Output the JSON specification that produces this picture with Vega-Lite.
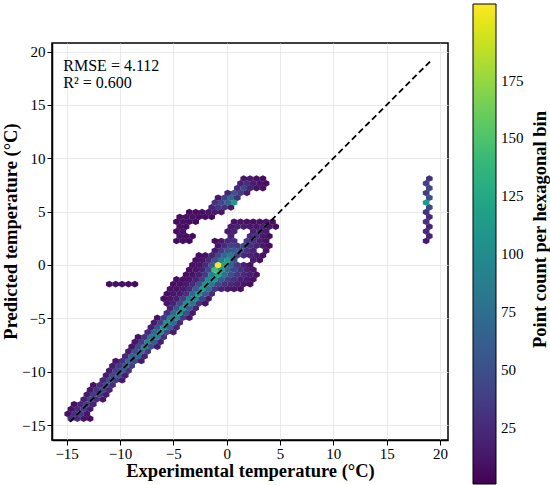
{
  "$schema": "https://vega.github.io/schema/vega-lite/v6.json",
  "width": 396,
  "height": 397,
  "autosize": {"type": "none"},
  "padding": {"left": 52, "top": 43, "right": 102, "bottom": 45},
  "background": "white",
  "config": {
    "view": {"stroke": "black", "strokeWidth": 1.5},
    "font": "Liberation Serif",
    "axis": {
      "labelFont": "Liberation Serif", "labelFontSize": 15, "labelColor": "black",
      "titleFont": "Liberation Serif", "titleFontSize": 18.5, "titleFontWeight": "bold", "titleColor": "black",
      "domainColor": "black", "domainWidth": 1.5, "tickColor": "black", "tickSize": 5, "tickWidth": 1,
      "gridColor": "#e4e4e4", "gridWidth": 0.8
    },
    "legend": {
      "labelFont": "Liberation Serif", "labelFontSize": 15, "labelColor": "black"
    }
  },
  "datasets": {
    "hex": [
      {"x":-14.6,"y":-14.4,"c":30},{"x":-14.0,"y":-14.4,"c":25},{"x":-13.4,"y":-14.4,"c":12},{"x":-12.8,"y":-14.4,"c":8},
      {"x":-14.9,"y":-13.95,"c":10},{"x":-14.3,"y":-13.95,"c":30},{"x":-13.7,"y":-13.95,"c":35},{"x":-13.1,"y":-13.95,"c":12},
      {"x":-14.6,"y":-13.5,"c":10},{"x":-14.0,"y":-13.5,"c":25},{"x":-13.4,"y":-13.5,"c":38},{"x":-12.8,"y":-13.5,"c":15},
      {"x":-14.3,"y":-13.05,"c":10},{"x":-13.7,"y":-13.05,"c":22},{"x":-13.1,"y":-13.05,"c":40},{"x":-12.5,"y":-13.05,"c":20},
      {"x":-13.4,"y":-12.6,"c":18},{"x":-12.8,"y":-12.6,"c":42},{"x":-12.2,"y":-12.6,"c":28},{"x":-11.6,"y":-12.6,"c":12},
      {"x":-13.1,"y":-12.15,"c":15},{"x":-12.5,"y":-12.15,"c":38},{"x":-11.9,"y":-12.15,"c":40},{"x":-11.3,"y":-12.15,"c":15},
      {"x":-12.8,"y":-11.7,"c":12},{"x":-12.2,"y":-11.7,"c":30},{"x":-11.6,"y":-11.7,"c":45},{"x":-11.0,"y":-11.7,"c":22},
      {"x":-12.5,"y":-11.25,"c":10},{"x":-11.9,"y":-11.25,"c":28},{"x":-11.3,"y":-11.25,"c":48},{"x":-10.7,"y":-11.25,"c":25},
      {"x":-11.6,"y":-10.8,"c":22},{"x":-11.0,"y":-10.8,"c":50},{"x":-10.4,"y":-10.8,"c":35},{"x":-9.8,"y":-10.8,"c":15},
      {"x":-11.3,"y":-10.35,"c":18},{"x":-10.7,"y":-10.35,"c":45},{"x":-10.1,"y":-10.35,"c":50},{"x":-9.5,"y":-10.35,"c":18},
      {"x":-11.0,"y":-9.9,"c":15},{"x":-10.4,"y":-9.9,"c":40},{"x":-9.8,"y":-9.9,"c":60},{"x":-9.2,"y":-9.9,"c":30},
      {"x":-10.7,"y":-9.45,"c":15},{"x":-10.1,"y":-9.45,"c":35},{"x":-9.5,"y":-9.45,"c":65},{"x":-8.9,"y":-9.45,"c":38},
      {"x":-10.4,"y":-9.0,"c":12},{"x":-9.8,"y":-9.0,"c":30},{"x":-9.2,"y":-9.0,"c":70},{"x":-8.6,"y":-9.0,"c":45},{"x":-8.0,"y":-9.0,"c":15},
      {"x":-9.5,"y":-8.55,"c":25},{"x":-8.9,"y":-8.55,"c":65},{"x":-8.3,"y":-8.55,"c":70},{"x":-7.7,"y":-8.55,"c":20},
      {"x":-9.2,"y":-8.1,"c":15},{"x":-8.6,"y":-8.1,"c":50},{"x":-8.0,"y":-8.1,"c":80},{"x":-7.4,"y":-8.1,"c":35},
      {"x":-8.9,"y":-7.65,"c":12},{"x":-8.3,"y":-7.65,"c":45},{"x":-7.7,"y":-7.65,"c":90},{"x":-7.1,"y":-7.65,"c":50},{"x":-6.5,"y":-7.65,"c":15},
      {"x":-8.6,"y":-7.2,"c":12},{"x":-8.0,"y":-7.2,"c":35},{"x":-7.4,"y":-7.2,"c":95},{"x":-6.8,"y":-7.2,"c":60},{"x":-6.2,"y":-7.2,"c":18},
      {"x":-8.3,"y":-6.75,"c":10},{"x":-7.7,"y":-6.75,"c":30},{"x":-7.1,"y":-6.75,"c":85},{"x":-6.5,"y":-6.75,"c":90},{"x":-5.9,"y":-6.75,"c":30},
      {"x":-7.4,"y":-6.3,"c":25},{"x":-6.8,"y":-6.3,"c":70},{"x":-6.2,"y":-6.3,"c":100},{"x":-5.6,"y":-6.3,"c":45},{"x":-5.0,"y":-6.3,"c":15},
      {"x":-7.1,"y":-5.85,"c":18},{"x":-6.5,"y":-5.85,"c":55},{"x":-5.9,"y":-5.85,"c":105},{"x":-5.3,"y":-5.85,"c":60},{"x":-4.7,"y":-5.85,"c":20},
      {"x":-6.8,"y":-5.4,"c":15},{"x":-6.2,"y":-5.4,"c":40},{"x":-5.6,"y":-5.4,"c":105},{"x":-5.0,"y":-5.4,"c":75},{"x":-4.4,"y":-5.4,"c":25},
      {"x":-6.5,"y":-4.95,"c":10},{"x":-5.9,"y":-4.95,"c":35},{"x":-5.3,"y":-4.95,"c":95},{"x":-4.7,"y":-4.95,"c":100},{"x":-4.1,"y":-4.95,"c":35},{"x":-3.5,"y":-4.95,"c":12},
      {"x":-5.6,"y":-4.5,"c":30},{"x":-5.0,"y":-4.5,"c":70},{"x":-4.4,"y":-4.5,"c":110},{"x":-3.8,"y":-4.5,"c":50},{"x":-3.2,"y":-4.5,"c":15},
      {"x":-5.3,"y":-4.05,"c":20},{"x":-4.7,"y":-4.05,"c":55},{"x":-4.1,"y":-4.05,"c":110},{"x":-3.5,"y":-4.05,"c":60},{"x":-2.9,"y":-4.05,"c":20},
      {"x":-5.6,"y":-3.6,"c":12},{"x":-5.0,"y":-3.6,"c":20},{"x":-4.4,"y":-3.6,"c":45},{"x":-3.8,"y":-3.6,"c":105},{"x":-3.2,"y":-3.6,"c":80},{"x":-2.6,"y":-3.6,"c":30},{"x":-2.0,"y":-3.6,"c":10},
      {"x":-5.9,"y":-3.15,"c":8},{"x":-5.3,"y":-3.15,"c":12},{"x":-4.7,"y":-3.15,"c":18},{"x":-4.1,"y":-3.15,"c":40},{"x":-3.5,"y":-3.15,"c":95},{"x":-2.9,"y":-3.15,"c":100},{"x":-2.3,"y":-3.15,"c":40},{"x":-1.7,"y":-3.15,"c":15},
      {"x":-5.6,"y":-2.7,"c":8},{"x":-5.0,"y":-2.7,"c":12},{"x":-4.4,"y":-2.7,"c":15},{"x":-3.8,"y":-2.7,"c":30},{"x":-3.2,"y":-2.7,"c":70},{"x":-2.6,"y":-2.7,"c":110},{"x":-2.0,"y":-2.7,"c":60},{"x":-1.4,"y":-2.7,"c":25},
      {"x":-5.3,"y":-2.25,"c":10},{"x":-4.7,"y":-2.25,"c":10},{"x":-4.1,"y":-2.25,"c":15},{"x":-3.5,"y":-2.25,"c":25},{"x":-2.9,"y":-2.25,"c":60},{"x":-2.3,"y":-2.25,"c":115},{"x":-1.7,"y":-2.25,"c":75},{"x":-1.1,"y":-2.25,"c":35},{"x":-0.5,"y":-2.25,"c":20},{"x":0.1,"y":-2.25,"c":15},{"x":0.7,"y":-2.25,"c":12},{"x":1.3,"y":-2.25,"c":8},
      {"x":-11.0,"y":-1.8,"c":8},{"x":-10.4,"y":-1.8,"c":10},{"x":-9.8,"y":-1.8,"c":9},{"x":-9.2,"y":-1.8,"c":8},{"x":-8.6,"y":-1.8,"c":6},
      {"x":-5.0,"y":-1.8,"c":8},{"x":-4.4,"y":-1.8,"c":10},{"x":-3.8,"y":-1.8,"c":15},{"x":-3.2,"y":-1.8,"c":25},{"x":-2.6,"y":-1.8,"c":50},{"x":-2.0,"y":-1.8,"c":110},{"x":-1.4,"y":-1.8,"c":85},{"x":-0.8,"y":-1.8,"c":45},{"x":-0.2,"y":-1.8,"c":30},{"x":0.4,"y":-1.8,"c":25},{"x":1.0,"y":-1.8,"c":18},{"x":1.6,"y":-1.8,"c":12},{"x":2.2,"y":-1.8,"c":8},
      {"x":-4.7,"y":-1.35,"c":8},{"x":-4.1,"y":-1.35,"c":10},{"x":-3.5,"y":-1.35,"c":12},{"x":-2.9,"y":-1.35,"c":20},{"x":-2.3,"y":-1.35,"c":40},{"x":-1.7,"y":-1.35,"c":100},{"x":-1.1,"y":-1.35,"c":110},{"x":-0.5,"y":-1.35,"c":60},{"x":0.1,"y":-1.35,"c":40},{"x":0.7,"y":-1.35,"c":30},{"x":1.3,"y":-1.35,"c":20},{"x":1.9,"y":-1.35,"c":15},{"x":2.5,"y":-1.35,"c":10},
      {"x":-3.8,"y":-0.9,"c":8},{"x":-3.2,"y":-0.9,"c":10},{"x":-2.6,"y":-0.9,"c":18},{"x":-2.0,"y":-0.9,"c":35},{"x":-1.4,"y":-0.9,"c":90},{"x":-0.8,"y":-0.9,"c":125},{"x":-0.2,"y":-0.9,"c":80},{"x":0.4,"y":-0.9,"c":50},{"x":1.0,"y":-0.9,"c":35},{"x":1.6,"y":-0.9,"c":25},{"x":2.2,"y":-0.9,"c":18},{"x":2.8,"y":-0.9,"c":10},
      {"x":-3.5,"y":-0.45,"c":8},{"x":-2.9,"y":-0.45,"c":12},{"x":-2.3,"y":-0.45,"c":20},{"x":-1.7,"y":-0.45,"c":45},{"x":-1.1,"y":-0.45,"c":145},{"x":-0.5,"y":-0.45,"c":110},{"x":0.1,"y":-0.45,"c":70},{"x":0.7,"y":-0.45,"c":45},{"x":1.3,"y":-0.45,"c":30},{"x":1.9,"y":-0.45,"c":20},{"x":2.5,"y":-0.45,"c":12},
      {"x":-3.2,"y":0,"c":8},{"x":-2.6,"y":0,"c":12},{"x":-2.0,"y":0,"c":25},{"x":-1.4,"y":0,"c":60},{"x":-0.8,"y":0,"c":208},{"x":-0.2,"y":0,"c":120},{"x":0.4,"y":0,"c":65},{"x":1.0,"y":0,"c":35},{"x":1.6,"y":0,"c":20},{"x":2.2,"y":0,"c":10},
      {"x":-2.9,"y":0.45,"c":8},{"x":-2.3,"y":0.45,"c":12},{"x":-1.7,"y":0.45,"c":25},{"x":-1.1,"y":0.45,"c":55},{"x":-0.5,"y":0.45,"c":90},{"x":0.1,"y":0.45,"c":115},{"x":0.7,"y":0.45,"c":50},{"x":2.5,"y":0.45,"c":15},{"x":3.1,"y":0.45,"c":10},
      {"x":-2.6,"y":0.9,"c":8},{"x":-2.0,"y":0.9,"c":10},{"x":-1.4,"y":0.9,"c":20},{"x":-0.8,"y":0.9,"c":45},{"x":-0.2,"y":0.9,"c":70},{"x":0.4,"y":0.9,"c":85},{"x":1.0,"y":0.9,"c":40},{"x":1.6,"y":0.9,"c":25},{"x":2.2,"y":0.9,"c":20},{"x":2.8,"y":0.9,"c":15},{"x":3.4,"y":0.9,"c":10},
      {"x":-1.1,"y":1.35,"c":15},{"x":-0.5,"y":1.35,"c":35},{"x":0.1,"y":1.35,"c":55},{"x":0.7,"y":1.35,"c":60},{"x":1.3,"y":1.35,"c":50},{"x":1.9,"y":1.35,"c":30},{"x":2.5,"y":1.35,"c":20},{"x":3.7,"y":1.35,"c":10},
      {"x":-0.8,"y":1.8,"c":12},{"x":-0.2,"y":1.8,"c":25},{"x":0.4,"y":1.8,"c":40},{"x":1.0,"y":1.8,"c":35},{"x":1.6,"y":1.8,"c":45},{"x":2.2,"y":1.8,"c":30},{"x":2.8,"y":1.8,"c":20},{"x":3.4,"y":1.8,"c":15},{"x":4.0,"y":1.8,"c":8},
      {"x":-4.7,"y":2.25,"c":5},{"x":-4.1,"y":2.25,"c":8},{"x":-3.5,"y":2.25,"c":5},{"x":-1.1,"y":2.25,"c":8},{"x":-0.5,"y":2.25,"c":15},{"x":0.1,"y":2.25,"c":25},{"x":0.7,"y":2.25,"c":30},{"x":1.9,"y":2.25,"c":35},{"x":2.5,"y":2.25,"c":30},{"x":3.1,"y":2.25,"c":18},{"x":3.7,"y":2.25,"c":10},{"x":18.7,"y":2.25,"c":15},
      {"x":-4.4,"y":2.7,"c":10},{"x":-3.8,"y":2.7,"c":8},{"x":-3.2,"y":2.7,"c":5},{"x":0.4,"y":2.7,"c":20},{"x":2.2,"y":2.7,"c":25},{"x":2.8,"y":2.7,"c":30},{"x":3.4,"y":2.7,"c":15},{"x":4.0,"y":2.7,"c":8},{"x":19.0,"y":2.7,"c":20},
      {"x":-4.7,"y":3.15,"c":8},{"x":-4.1,"y":3.15,"c":10},{"x":0.1,"y":3.15,"c":15},{"x":0.7,"y":3.15,"c":20},{"x":2.5,"y":3.15,"c":20},{"x":3.1,"y":3.15,"c":25},{"x":3.7,"y":3.15,"c":15},{"x":18.7,"y":3.15,"c":25},
      {"x":-4.4,"y":3.6,"c":10},{"x":-3.8,"y":3.6,"c":8},{"x":0.4,"y":3.6,"c":15},{"x":1.0,"y":3.6,"c":20},{"x":1.6,"y":3.6,"c":18},{"x":2.2,"y":3.6,"c":15},{"x":2.8,"y":3.6,"c":12},{"x":3.4,"y":3.6,"c":20},{"x":4.0,"y":3.6,"c":12},{"x":4.6,"y":3.6,"c":8},{"x":19.0,"y":3.6,"c":20},
      {"x":-4.7,"y":4.05,"c":6},{"x":-4.1,"y":4.05,"c":10},{"x":-3.5,"y":4.05,"c":8},{"x":-2.9,"y":4.05,"c":6},{"x":0.7,"y":4.05,"c":10},{"x":1.3,"y":4.05,"c":12},{"x":1.9,"y":4.05,"c":10},{"x":2.5,"y":4.05,"c":8},{"x":3.1,"y":4.05,"c":10},{"x":3.7,"y":4.05,"c":12},{"x":4.3,"y":4.05,"c":8},{"x":18.7,"y":4.05,"c":30},
      {"x":-4.4,"y":4.5,"c":8},{"x":-3.8,"y":4.5,"c":10},{"x":-3.2,"y":4.5,"c":10},{"x":-2.6,"y":4.5,"c":8},{"x":-2.0,"y":4.5,"c":8},{"x":-1.4,"y":4.5,"c":6},{"x":19.0,"y":4.5,"c":25},
      {"x":-3.5,"y":4.95,"c":6},{"x":-2.9,"y":4.95,"c":8},{"x":-2.3,"y":4.95,"c":10},{"x":-1.7,"y":4.95,"c":12},{"x":-1.1,"y":4.95,"c":15},{"x":-0.5,"y":4.95,"c":12},{"x":18.7,"y":4.95,"c":30},
      {"x":-1.4,"y":5.4,"c":20},{"x":-0.8,"y":5.4,"c":35},{"x":-0.2,"y":5.4,"c":30},{"x":0.4,"y":5.4,"c":15},{"x":19.0,"y":5.4,"c":45},
      {"x":-1.1,"y":5.85,"c":30},{"x":-0.5,"y":5.85,"c":45},{"x":0.1,"y":5.85,"c":65},{"x":0.7,"y":5.85,"c":115},{"x":18.7,"y":5.85,"c":115},
      {"x":-0.8,"y":6.3,"c":15},{"x":-0.2,"y":6.3,"c":40},{"x":0.4,"y":6.3,"c":70},{"x":1.0,"y":6.3,"c":30},{"x":19.0,"y":6.3,"c":50},
      {"x":0.1,"y":6.75,"c":20},{"x":0.7,"y":6.75,"c":55},{"x":1.3,"y":6.75,"c":35},{"x":1.9,"y":6.75,"c":15},{"x":18.7,"y":6.75,"c":35},
      {"x":1.0,"y":7.2,"c":25},{"x":1.6,"y":7.2,"c":45},{"x":2.2,"y":7.2,"c":20},{"x":2.8,"y":7.2,"c":10},{"x":3.4,"y":7.2,"c":10},{"x":19.0,"y":7.2,"c":45},
      {"x":1.3,"y":7.65,"c":20},{"x":1.9,"y":7.65,"c":30},{"x":2.5,"y":7.65,"c":18},{"x":3.1,"y":7.65,"c":12},{"x":3.7,"y":7.65,"c":8},{"x":18.7,"y":7.65,"c":40},
      {"x":1.6,"y":8.1,"c":12},{"x":2.2,"y":8.1,"c":15},{"x":2.8,"y":8.1,"c":10},{"x":3.4,"y":8.1,"c":8},{"x":19.0,"y":8.1,"c":30}
    ]
  },
  "layer": [
    {
      "layer": [
        {
          "data": {"name": "hex"},
          "mark": {"type": "point", "shape": "M0,-1L1,-0.5L1,0.5L0,1L-1,0.5L-1,-0.5Z", "size": 44, "filled": true, "opacity": 1, "strokeWidth": 0},
          "encoding": {
            "x": {
              "field": "x", "type": "quantitative",
              "scale": {"domain": [-16.37, 20.75], "nice": false, "zero": false},
              "axis": {"title": "Experimental temperature (°C)", "values": [-15, -10, -5, 0, 5, 10, 15, 20], "labelFont": "Liberation Serif", "labelPadding": 1, "titleX": 198, "titleY": 36, "titleBaseline": "alphabetic"}
            },
            "y": {
              "field": "y", "type": "quantitative",
              "scale": {"domain": [-16.4, 20.8], "nice": false, "zero": false},
              "axis": {"title": "Predicted temperature (°C)", "values": [-15, -10, -5, 0, 5, 10, 15, 20], "labelFont": "Liberation Serif", "labelPadding": 2, "titleX": -36, "titleY": 188, "titleBaseline": "alphabetic"}
            },
            "color": {
              "field": "c", "type": "quantitative",
              "scale": {"scheme": "viridis", "domain": [1, 208]},
              "legend": {
                "type": "gradient", "title": null, "orient": "none", "legendX": 421, "legendY": -39,
                "direction": "vertical", "gradientLength": 480, "gradientThickness": 23,
                "values": [25, 50, 75, 100, 125, 150, 175], "labelOverlap": false, "labelOffset": 5,
                "gradientStrokeColor": "black", "gradientStrokeWidth": 1
              }
            }
          }
        },
        {
          "data": {"values": [{}]},
          "mark": {"type": "rule", "color": "black", "strokeWidth": 1.8, "strokeDash": [6, 3.5]},
          "encoding": {
            "x": {"datum": -14.7, "type": "quantitative"},
            "y": {"datum": -14.7, "type": "quantitative"},
            "x2": {"datum": 19.1},
            "y2": {"datum": 19.1}
          }
        },
        {
          "data": {"values": [{}]},
          "mark": {"type": "text", "align": "left", "baseline": "alphabetic", "font": "Liberation Serif", "fontSize": 16, "lineHeight": 17, "color": "black"},
          "encoding": {
            "x": {"datum": -15.31, "type": "quantitative"},
            "y": {"datum": 18.2, "type": "quantitative"},
            "text": {"value": ["RMSE = 4.112", "R² = 0.600"]}
          }
        }
      ]
    },
    {
      "data": {"values": [{}]},
      "mark": {"type": "point", "opacity": 0},
      "encoding": {
        "y": {
          "datum": 0, "type": "quantitative",
          "axis": {
            "orient": "right", "title": "Point count per hexagonal bin",
            "labels": false, "ticks": false, "domain": false, "grid": false,
            "titleAngle": 270, "titleX": 97, "titleY": 186, "titleAlign": "center", "titleBaseline": "alphabetic", "titleLimit": 600
          }
        }
      }
    }
  ],
  "resolve": {"scale": {"y": "independent"}}
}
